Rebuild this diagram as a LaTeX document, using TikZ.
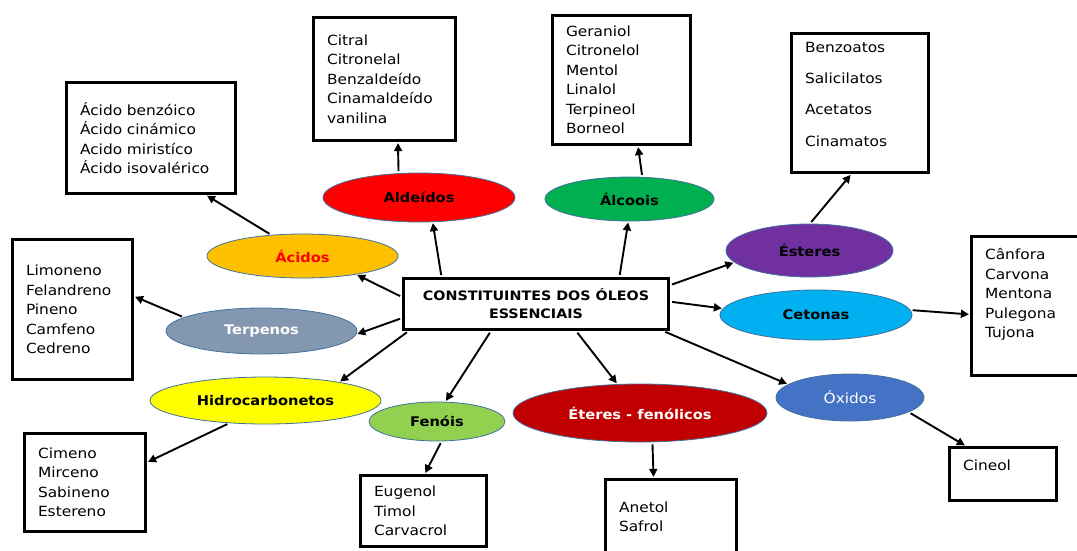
\documentclass[tikz,border=0pt]{standalone}
\usepackage{fontspec}
\setmainfont{DejaVu Sans}[FakeStretch=1.1]
\usetikzlibrary{shapes.geometric,arrows.meta}
\definecolor{ellline}{HTML}{41719C}
\definecolor{cAld}{HTML}{FF0000}
\definecolor{cAlc}{HTML}{00B050}
\definecolor{cAci}{HTML}{FFC000}
\definecolor{cEst}{HTML}{7030A0}
\definecolor{cCet}{HTML}{00B0F0}
\definecolor{cTer}{HTML}{8497B0}
\definecolor{cHid}{HTML}{FFFF00}
\definecolor{cFen}{HTML}{92D050}
\definecolor{cEte}{HTML}{C00000}
\definecolor{cOxi}{HTML}{4472C4}
\newcommand\lstfont{\fontsize{14}{19.5}\selectfont}
\newcommand\catfont{\fontsize{13.3}{16}\selectfont\bfseries}
\tikzset{
  cat/.style n args={3}{ellipse, draw=ellline, line width=0.8pt, fill=#3,
    minimum width=#1pt, minimum height=#2pt, inner sep=0pt, font=\catfont},
  lst/.style 2 args={rectangle, draw, line width=3.2pt, align=left,
    inner xsep=13.5pt, inner ysep=0pt, text width=#1pt, minimum height=#2pt, font=\lstfont},
  arr/.style={-{Triangle[length=8pt,width=8pt]}, line width=1.9pt, shorten <=2pt, shorten >=1pt},
}
\begin{document}
\begin{tikzpicture}[x=1pt,y=-1pt]
\useasboundingbox (0,0) rectangle (1077,550);
\clip (0,0) rectangle (1077,550);
% centre
\node[draw, line width=3.2pt, minimum width=265pt, minimum height=51pt, align=center,
  font=\fontsize{13}{18}\selectfont\bfseries] (cen) at (536,304) {CONSTITUINTES DOS ÓLEOS\\ESSENCIAIS};
% categorias
\node[cat={192}{49}{cAld}] (ald) at (419,197.5) {Aldeídos};
\node[cat={169}{44}{cAlc}] (alc) at (629.5,199) {Álcoois};
\node[cat={191}{44}{cAci}, text=red] (aci) at (302.5,256) {Ácidos};
\node[cat={167}{53}{cEst}] (est) at (809.5,250.5) {Ésteres};
\node[cat={192}{50}{cCet}] (cet) at (816,315) {Cetonas};
\node[cat={191}{46}{cTer}, text=white] (ter) at (261.5,331) {Terpenos};
\node[cat={231}{47}{cHid}] (hid) at (265.5,400.5) {Hidrocarbonetos};
\node[cat={136}{39}{cFen}] (fen) at (437,421.5) {Fenóis};
\node[cat={254}{58}{cEte}, text=white] (ete) at (640,413) {Éteres - fenólicos};
\node[cat={148}{47}{cOxi}, text=white, font=\lstfont] (oxi) at (850,397.5) {Óxidos};
% listas
\node[lst={142}{111}] (acb) at (151,138) {Ácido benzóico\\Ácido cinámico\\Acido miristíco\\Ácido isovalérico};
\node[lst={115}{123}] (alb) at (384.5,79) {Citral\\Citronelal\\Benzaldeído\\Cinamaldeído\\vanilina};
\node[lst={111}{129}] (alcb) at (621.5,80) {Geraniol\\Citronelol\\Mentol\\Linalol\\Terpineol\\Borneol};
\node[lst={110}{139}, font=\fontsize{14}{31.3}\selectfont] (esb) at (860,103) {Benzoatos\\Salicilatos\\Acetatos\\Cinamatos\\[-13.7pt]~};
\node[lst={90}{139}] (ceb) at (1030,306) {Cânfora\\Carvona\\Mentona\\Pulegona\\Tujona\\[5.8pt]~};
\node[lst={93}{140}] (teb) at (72.5,309.5) {Limoneno\\Felandreno\\Pineno\\Camfeno\\Cedreno};
\node[lst={94}{98}] (hib) at (85,482.5) {Cimeno\\Mirceno\\Sabineno\\Estereno};
\node[lst={99}{71}] (feb) at (423.5,511) {Eugenol\\Timol\\Carvacrol};
\node[lst={104}{75}] (etb) at (671,517) {Anetol\\Safrol};
\node[lst={80}{53}] (oxb) at (1003,474) {Cineol\\[-2.2pt]~};
% setas
\draw[arr] (cen.164) -- (ald.-61);
\draw[arr] (cen.18) -- (alc.-93);
\draw[arr] (cen.177) -- (aci.-19);
\draw[arr] (cen.186) -- (ter.-2);
\draw[arr] (cen.192) -- (hid.14);
\draw[arr] (cen.211) -- (fen.67);
\draw[arr] (cen.-34) -- (ete.128);
\draw[arr] (cen.-12) -- (oxi.168);
\draw[arr] (cen.8) -- (est.189);
\draw[arr] (cen.1) -- (cet.176);
\draw[arr] (aci.146) -- (acb.-46);
\draw[arr] (ald.130) -- (alb.-78);
\draw[arr] (alc.60) -- (alcb.-76);
\draw[arr] (est.89) -- (esb.263);
\draw[arr] (cet.3) -- (ceb.188);
\draw[arr] (ter.170) -- (teb.12);
\draw[arr] (hid.212) -- (hib.18);
\draw[arr] (fen.-77) -- (feb.88);
\draw[arr] (ete.-67) -- (etb.114);
\draw[arr] (oxi.-14) -- (oxb.143);
\end{tikzpicture}
\end{document}
